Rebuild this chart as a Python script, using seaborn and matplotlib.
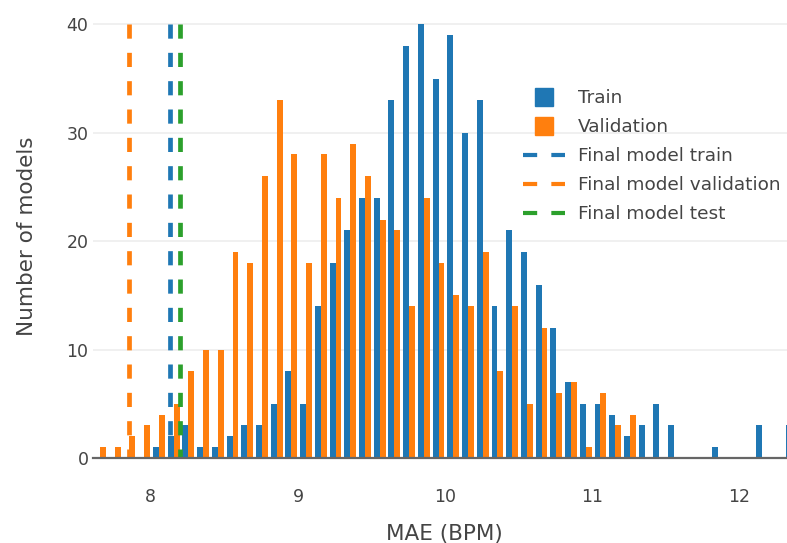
import numpy as np
import pandas as pd
import matplotlib.pyplot as plt
from matplotlib.lines import Line2D
import seaborn as sns

# Histogram counts per 0.1 BPM bin (first bin starts at 7.605)
bin_start = 7.605
bin_width = 0.1
train_counts = [0, 0, 0, 0, 1, 2, 3, 1, 1, 2, 3, 3, 5, 8, 5, 14, 18, 21, 24, 24,
                33, 38, 40, 35, 39, 30, 33, 14, 21, 19, 16, 12, 7, 5, 5, 4, 2, 3, 5, 3,
                0, 0, 1, 0, 0, 3, 0, 3]
val_counts = [1, 1, 2, 3, 4, 5, 8, 10, 10, 19, 18, 26, 33, 28, 18, 28, 24, 29, 26, 22,
              21, 14, 24, 18, 15, 14, 19, 8, 14, 5, 12, 6, 7, 1, 6, 3, 4, 0, 0, 0,
              0, 0, 0, 0, 0, 0, 0, 0]

# Final model MAE
final_train = 8.127
final_val = 7.855
final_test = 8.195

blue, orange, green = "#1f77b4", "#ff7f0e", "#2ca02c"
txt = "#444444"

sns.set_theme(style="white")
plt.rcParams["font.family"] = ["DejaVu Sans"]

n_bins = len(train_counts)
edges = bin_start + bin_width * np.arange(n_bins + 1)
centers = (edges[:-1] + edges[1:]) / 2

df = pd.DataFrame({
    "mae": np.concatenate([centers, centers]),
    "count": train_counts + val_counts,
    "set": ["Train"] * n_bins + ["Validation"] * n_bins,
})

fig = plt.figure(figsize=(7.87, 5.43), dpi=100)
ax = fig.add_axes([92.7 / 787, 85 / 543, 1 - 92.7 / 787, (458 - 1.6) / 543])

# grouped histogram (bins passed as list, seaborn chokes on an array here)
sns.histplot(data=df, x="mae", weights="count", hue="set",
             hue_order=["Train", "Validation"], palette=[blue, orange],
             bins=list(edges), multiple="dodge", shrink=0.8, alpha=1,
             linewidth=0, legend=False, ax=ax)

# Final model lines
for xv, c in [(final_train, blue), (final_val, orange), (final_test, green)]:
    ax.plot([xv, xv], [40, 0], color=c, lw=3.4, dashes=(3, 3),
            dash_capstyle="butt", zorder=4)

ax.set_xlim(7.605, 12.323)
ax.set_ylim(0, 42.1)
ax.set_xticks([8, 9, 10, 11, 12])
ax.set_yticks([0, 10, 20, 30, 40])
ax.grid(axis="y", color="#eeeeee", lw=1.2)
ax.grid(axis="x", visible=False)
ax.set_axisbelow(True)
for s in ["top", "right", "left"]:
    ax.spines[s].set_visible(False)
ax.spines["bottom"].set_color("#666666")
ax.spines["bottom"].set_linewidth(1.6)
ax.spines["bottom"].set_zorder(5)
ax.tick_params(axis="x", length=0, pad=21.5, labelsize=12.5, labelcolor=txt)
ax.tick_params(axis="y", length=0, pad=3, labelsize=12.5, labelcolor=txt)

ax.set_xlabel("MAE (BPM)", fontsize=15.5, color=txt)
ax.set_ylabel("Number of models", fontsize=15.5, color=txt)
ax.xaxis.set_label_coords(0.507, -0.144)
ax.yaxis.set_label_coords(-0.080, 0.486)

handles = [
    Line2D([], [], marker="s", ms=13, color=blue, ls="none"),
    Line2D([], [], marker="s", ms=13, color=orange, ls="none"),
    Line2D([], [], color=blue, lw=3, dashes=(3.4, 3.4)),
    Line2D([], [], color=orange, lw=3, dashes=(3.4, 3.4)),
    Line2D([], [], color=green, lw=3, dashes=(3.4, 3.4)),
]
labels = ["Train", "Validation", "Final model train",
          "Final model validation", "Final model test"]
leg = fig.legend(handles, labels, loc="upper left",
                 bbox_to_anchor=(523 / 787, 1 - 89 / 543), frameon=False,
                 fontsize=13.3, handlelength=2.27, handletextpad=0.7,
                 labelspacing=0.6, borderpad=0, borderaxespad=0)
for t in leg.get_texts():
    t.set_color(txt)

fig.savefig("out.png", dpi=100)
